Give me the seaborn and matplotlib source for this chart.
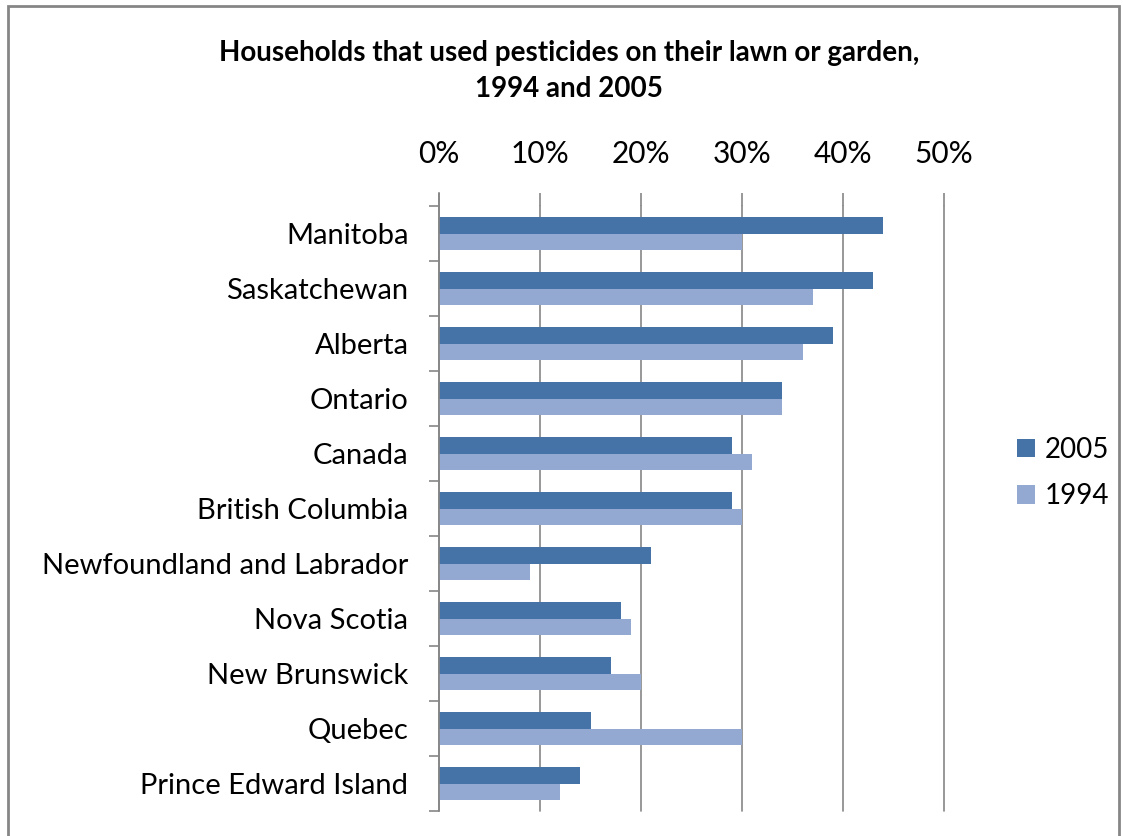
import pandas as pd
import numpy as np
import matplotlib
matplotlib.use("Agg")
import matplotlib.pyplot as plt
import seaborn as sns
from matplotlib.ticker import FuncFormatter, FixedLocator
from matplotlib.patches import Rectangle, Patch

# Data (percent of households)
provinces = ["Manitoba", "Saskatchewan", "Alberta", "Ontario", "Canada",
             "British Columbia", "Newfoundland and Labrador", "Nova Scotia",
             "New Brunswick", "Quebec", "Prince Edward Island"]
pct_2005 = [44, 43, 39, 34, 29, 29, 21, 18, 17, 15, 14]
pct_1994 = [30, 37, 36, 34, 31, 30, 9, 19, 20, 30, 12]
years = ["2005", "1994"]
colors = ["#4572A7", "#94A9D1"]

df = pd.DataFrame({
    "Province": provinces * 2,
    "Year": ["2005"] * len(provinces) + ["1994"] * len(provinces),
    "Percent": pct_2005 + pct_1994,
})

sns.set_theme(style="white")
plt.rcParams["font.family"] = ["Lato", "DejaVu Sans"]
plt.rcParams["text.color"] = "black"

fig = plt.figure(figsize=(11.23, 8.36), dpi=100)
ax = fig.add_axes([439 / 1123, 25 / 836, 505 / 1123, 605 / 836])

sns.barplot(data=df, y="Province", x="Percent", hue="Year",
            order=provinces, hue_order=years, palette=colors,
            width=0.6, saturation=1, linewidth=0, ax=ax, legend=False)

ax.set_xlim(0, 50)
ax.set_ylim(len(provinces) - 0.5, -0.5)
ax.set_xlabel("")
ax.set_ylabel("")

# x axis on top, like the original
ax.xaxis.tick_top()
ax.set_xticks(np.arange(0, 51, 10))
ax.xaxis.set_major_formatter(FuncFormatter(lambda v, p: f"{v:.0f}%"))
ax.tick_params(axis="x", which="major", length=9.5, width=1.2, color="#868686",
               pad=18, labelsize=21.5, labelcolor="black")
ax.grid(axis="x", color="#868686", linewidth=1.2)
for gl in ax.get_xgridlines():
    gl.set_clip_on(False)
ax.set_axisbelow(True)

# category labels, ticks between categories
ax.tick_params(axis="y", which="major", length=0, pad=22, labelsize=21,
               labelcolor="black")
ax.yaxis.set_minor_locator(FixedLocator(np.arange(-0.5, len(provinces), 1)))
ax.tick_params(axis="y", which="minor", left=True, length=7, width=1.2,
               color="#868686")

for side in ["top", "right", "bottom"]:
    ax.spines[side].set_visible(False)
ax.spines["left"].set_color("#868686")
ax.spines["left"].set_linewidth(1.2)
ax.spines["left"].set_bounds(len(provinces) - 0.5, -0.5 - 13 / 55)

fig.text(569 / 1123, 1 - 71 / 836,
         "Households that used pesticides on their lawn or garden,\n1994 and 2005",
         ha="center", va="center", fontsize=20, fontweight="bold",
         color="black", linespacing=1.45)

handles = [Patch(facecolor=c, edgecolor="none") for c in colors]
fig.legend(handles, years, loc="center left",
           bbox_to_anchor=(1017 / 1123, 1 - 473 / 836), frameon=False,
           fontsize=20, handlelength=0.65, handleheight=0.65, handletextpad=0.35,
           labelspacing=0.75, borderpad=0, borderaxespad=0)

# grey outer border of the chart (bottom edge falls outside the image)
fig.patches.append(Rectangle((8 / 1123, -0.1), (1119 - 8) / 1123, 1.1 - 6 / 836,
                             transform=fig.transFigure, fill=False,
                             edgecolor="#868686", linewidth=2))

fig.savefig("out.png", dpi=100)
